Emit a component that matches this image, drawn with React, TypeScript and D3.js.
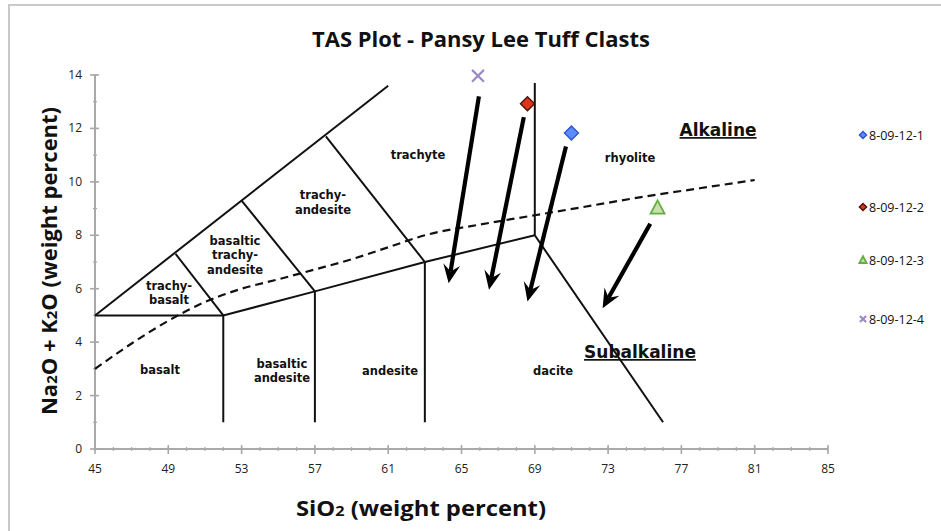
import React from "react";
import * as d3 from "d3";

const W = 941;
const H = 531;

const X_TICKS = [45, 49, 53, 57, 61, 65, 69, 73, 77, 81, 85];
const Y_TICKS = [0, 2, 4, 6, 8, 10, 12, 14];

const SAMPLE_NAMES = ["8-09-12-1", "8-09-12-2", "8-09-12-3", "8-09-12-4"];
const SAMPLE_SIO2 = [71.0, 68.6, 75.7, 65.9];
const SAMPLE_ALK = [11.83, 12.92, 9.03, 13.97];

// arrows (start / end in data coordinates)
const ARROW_FROM_X = [65.95, 68.4, 70.7, 75.3];
const ARROW_FROM_Y = [13.2, 12.42, 11.32, 8.43];
const ARROW_TO_X = [64.3, 66.5, 68.6, 72.7];
const ARROW_TO_Y = [6.2, 5.96, 5.52, 5.27];

// TAS field boundaries
const BOUNDARIES: [number, number][][] = [
  [[45, 5], [61, 13.6]],
  [[45, 5], [52, 5], [57, 5.9], [63, 7], [69, 8]],
  [[49.4, 7.3], [52, 5]],
  [[53, 9.3], [57, 5.9]],
  [[57.6, 11.7], [63, 7]],
  [[52, 5], [52, 1]],
  [[57, 5.9], [57, 1]],
  [[63, 7], [63, 1]],
  [[69, 13.7], [69, 8], [76, 1]],
];

// Alkaline / subalkaline divide
const DIVIDE_X = [45, 47, 49, 51, 53, 55, 57, 59, 61, 63, 66, 69, 72, 75, 78, 81];
const DIVIDE_Y = [3.0, 3.95, 4.8, 5.5, 6.0, 6.35, 6.72, 7.1, 7.55, 8.0, 8.4, 8.75, 9.1, 9.45, 9.76, 10.07];

const FIELD_LABELS: { lines: string[]; x: number; y: number }[] = [
  { lines: ["trachyte"], x: 62.63, y: 11.0 },
  { lines: ["rhyolite"], x: 74.2, y: 10.89 },
  { lines: ["trachy-", "andesite"], x: 57.44, y: 9.23 },
  { lines: ["basaltic", "trachy-", "andesite"], x: 52.64, y: 7.26 },
  { lines: ["trachy-", "basalt"], x: 49.04, y: 5.84 },
  { lines: ["basalt"], x: 48.55, y: 2.96 },
  { lines: ["basaltic", "andesite"], x: 55.2, y: 2.92 },
  { lines: ["andesite"], x: 61.1, y: 2.92 },
  { lines: ["dacite"], x: 70.0, y: 2.92 },
];

const SERIES_LABELS = [
  { text: "Alkaline", x: 79.0, y: 11.94 },
  { text: "Subalkaline", x: 74.74, y: 3.63 },
];

const x = d3.scaleLinear().domain([45, 85]).range([95, 828]);
const y = d3.scaleLinear().domain([0, 14]).range([449, 75]);

const LABEL_FONT = "'DejaVu Sans', Verdana, sans-serif";
const NARROW_FONT = "'Liberation Sans Narrow', 'Open Sans', sans-serif";

function Marker({ i, cx, cy, s }: { i: number; cx: number; cy: number; s: number }) {
  if (i === 0) {
    return (
      <path
        d={`M${cx},${cy - s}L${cx + s},${cy}L${cx},${cy + s}L${cx - s},${cy}Z`}
        fill="#5b8cf7"
        stroke="#2f55d4"
        strokeWidth={1.4}
      />
    );
  }
  if (i === 1) {
    return (
      <path
        d={`M${cx},${cy - s}L${cx + s},${cy}L${cx},${cy + s}L${cx - s},${cy}Z`}
        fill="#e0341a"
        stroke="#4a1208"
        strokeWidth={1.4}
      />
    );
  }
  if (i === 2) {
    const h = s * 1.05;
    return (
      <path
        d={`M${cx},${cy - h}L${cx + s},${cy + h * 0.8}L${cx - s},${cy + h * 0.8}Z`}
        fill="#c9e0a8"
        stroke="#62ad46"
        strokeWidth={1.8}
      />
    );
  }
  const k = s * 0.85;
  return (
    <path
      d={`M${cx - k},${cy - k}L${cx + k},${cy + k}M${cx - k},${cy + k}L${cx + k},${cy - k}`}
      stroke="#9c8ac6"
      strokeWidth={2.2}
      fill="none"
    />
  );
}

function Arrow({ x1, y1, x2, y2 }: { x1: number; y1: number; x2: number; y2: number }) {
  const dx = x2 - x1;
  const dy = y2 - y1;
  const len = Math.sqrt(dx * dx + dy * dy);
  const ux = dx / len;
  const uy = dy / len;
  const px = -uy;
  const py = ux;
  const L = 19;
  const hw = 8.5;
  const notch = 12;
  const bx = x2 - ux * L;
  const by = y2 - uy * L;
  const nx = x2 - ux * notch;
  const ny = y2 - uy * notch;
  return (
    <g>
      <line x1={x1} y1={y1} x2={nx} y2={ny} stroke="#000" strokeWidth={4.2} />
      <path
        d={`M${x2},${y2}L${bx + px * hw},${by + py * hw}L${nx},${ny}L${bx - px * hw},${by - py * hw}Z`}
        fill="#000"
      />
    </g>
  );
}

export default function App() {
  const line = d3
    .line<[number, number]>()
    .x((d) => x(d[0]))
    .y((d) => y(d[1]));
  const curve = d3
    .line<[number, number]>()
    .x((d) => x(d[0]))
    .y((d) => y(d[1]))
    .curve(d3.curveMonotoneX);
  const dividePts: [number, number][] = DIVIDE_X.map((v, i) => [v, DIVIDE_Y[i]]);

  const minorX = d3.range(45, 86, 1);
  const minorY = d3.range(0, 15, 1);

  const legendY = [136, 208, 261, 320];

  return (
    <svg
      width={W}
      height={H}
      style={{ position: "absolute", left: 0, top: 0, background: "#fff" }}
    >
      <rect x={0} y={0} width={W} height={H} fill="#fff" />
      {/* outer frame */}
      <rect x={9} y={5} width={1000} height={700} fill="none" stroke="#c9c9c9" strokeWidth={2} />

      {/* title */}
      <text
        x={481}
        y={47}
        textAnchor="middle"
        fontFamily={NARROW_FONT}
        fontWeight="bold"
        fontSize={21}
        fill="#111"
        textLength={338}
        lengthAdjust="spacingAndGlyphs"
      >
        TAS Plot - Pansy Lee Tuff Clasts
      </text>

      {/* axes */}
      <g stroke="#a9a9a9">
        <line x1={x(45)} y1={y(0)} x2={x(85)} y2={y(0)} strokeWidth={2} />
        <line x1={x(45)} y1={y(0)} x2={x(45)} y2={y(14)} strokeWidth={2} />
        {minorX.map((v) => (
          <line key={"mx" + v} x1={x(v)} x2={x(v)} y1={y(0) - 2} y2={y(0) + 2} strokeWidth={1.2} />
        ))}
        {X_TICKS.map((v) => (
          <line key={"Mx" + v} x1={x(v)} x2={x(v)} y1={y(0) - 4} y2={y(0) + 5} strokeWidth={1.6} />
        ))}
        {minorY.map((v) => (
          <line key={"my" + v} x1={x(45) - 2} x2={x(45) + 2} y1={y(v)} y2={y(v)} strokeWidth={1.2} />
        ))}
        {Y_TICKS.map((v) => (
          <line key={"My" + v} x1={x(45) - 5} x2={x(45) + 4} y1={y(v)} y2={y(v)} strokeWidth={1.6} />
        ))}
      </g>
      <g fontFamily={NARROW_FONT} fontSize={12} fill="#222">
        {X_TICKS.map((v) => (
          <text key={"xl" + v} x={x(v)} y={y(0) + 24} textAnchor="middle">
            {v}
          </text>
        ))}
        {Y_TICKS.map((v) => (
          <text key={"yl" + v} x={x(45) - 13} y={y(v) + 4} textAnchor="end">
            {v}
          </text>
        ))}
      </g>

      {/* axis titles */}
      <text
        x={421}
        y={516}
        textAnchor="middle"
        fontFamily={NARROW_FONT}
        fontWeight="bold"
        fontSize={22}
        fill="#111"
        textLength={250}
        lengthAdjust="spacingAndGlyphs"
      >
        SiO<tspan fontSize={15}>2</tspan> (weight percent)
      </text>
      <text
        transform="translate(57,261) rotate(-90)"
        textAnchor="middle"
        fontFamily={NARROW_FONT}
        fontWeight="bold"
        fontSize={22}
        fill="#111"
        textLength={308}
        lengthAdjust="spacingAndGlyphs"
      >
        Na<tspan fontSize={15}>2</tspan>O + K<tspan fontSize={15}>2</tspan>O (weight percent)
      </text>

      {/* TAS boundaries */}
      <g fill="none" stroke="#111" strokeWidth={2} strokeLinejoin="miter">
        {BOUNDARIES.map((b, i) => (
          <path key={"b" + i} d={line(b) || ""} />
        ))}
      </g>
      <path
        d={curve(dividePts) || ""}
        fill="none"
        stroke="#111"
        strokeWidth={2.2}
        strokeDasharray="8,5"
      />

      {/* field labels */}
      <g fontFamily={LABEL_FONT} fontWeight="bold" fontSize={11.5} fill="#111" textAnchor="middle">
        {FIELD_LABELS.map((f, i) => {
          const n = f.lines.length;
          const lh = 14.5;
          return (
            <text key={"f" + i} x={x(f.x)} y={y(f.y) - ((n - 1) * lh) / 2 + 4}>
              {f.lines.map((l, j) => (
                <tspan key={j} x={x(f.x)} dy={j === 0 ? 0 : lh}>
                  {l}
                </tspan>
              ))}
            </text>
          );
        })}
      </g>
      <g fontFamily={LABEL_FONT} fontWeight="bold" fontSize={17} fill="#111" textAnchor="middle">
        {SERIES_LABELS.map((s, i) => (
          <text key={"s" + i} x={x(s.x)} y={y(s.y) + 6} textDecoration="underline">
            {s.text}
          </text>
        ))}
      </g>

      {/* arrows */}
      {ARROW_FROM_X.map((v, i) => (
        <Arrow
          key={"a" + i}
          x1={x(v)}
          y1={y(ARROW_FROM_Y[i])}
          x2={x(ARROW_TO_X[i])}
          y2={y(ARROW_TO_Y[i])}
        />
      ))}

      {/* samples */}
      {SAMPLE_NAMES.map((n, i) => (
        <Marker key={"m" + i} i={i} cx={x(SAMPLE_SIO2[i])} cy={y(SAMPLE_ALK[i])} s={7} />
      ))}

      {/* legend */}
      {SAMPLE_NAMES.map((n, i) => (
        <g key={"lg" + i}>
          <Marker i={i} cx={863} cy={legendY[i] - 1} s={3.6} />
          <text
            x={869}
            y={legendY[i] + 4}
            fontFamily={NARROW_FONT}
            fontSize={12.5}
            fill="#111"
          >
            {n}
          </text>
        </g>
      ))}
    </svg>
  );
}
